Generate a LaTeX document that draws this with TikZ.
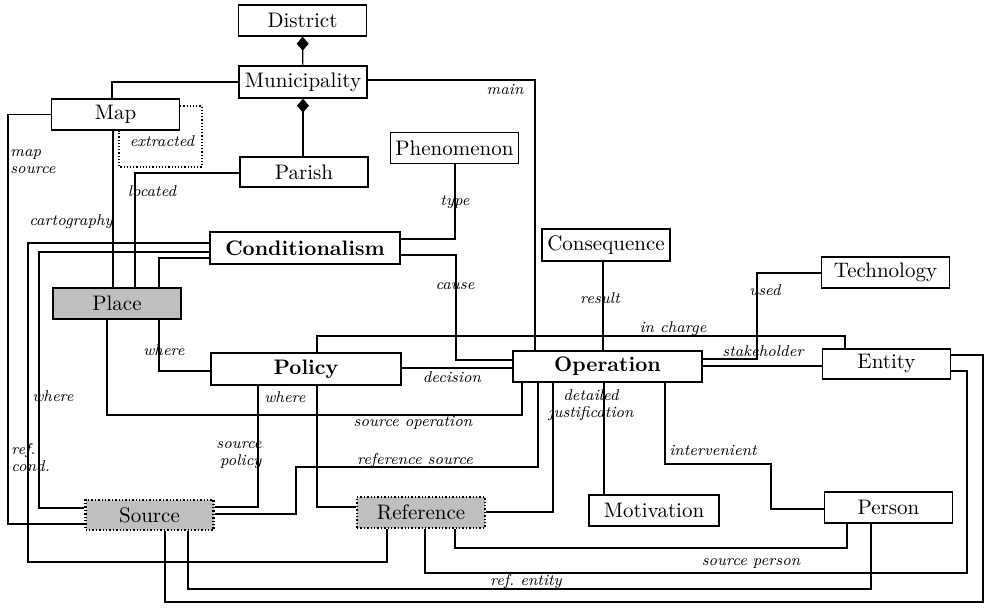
\documentclass[tikz,border=0pt]{standalone}
\usetikzlibrary{arrows.meta}
\tikzset{
  entbox/.style={draw, line width=0.7pt, fill=white, minimum width=64pt, minimum height=15.5pt, inner sep=0pt, font=\fontsize{10.5}{12}\selectfont},
  keybox/.style={entbox, line width=1pt, minimum width=95pt, minimum height=16pt, font=\fontsize{10.5}{12}\selectfont\bfseries},
  placebox/.style={entbox, fill=black!25},
  srcbox/.style={entbox, fill=black!25, densely dotted, line width=1.1pt},
  link/.style={line width=0.6pt},
  rel/.style={font=\fontsize{7.8}{8.5}\selectfont\itshape, inner sep=0pt},
  part/.style={link, -{Diamond[length=7pt,width=6pt]}},
}
\begin{document}
\begin{tikzpicture}[x=0.5pt, y=-0.5pt]
\useasboundingbox (0,0) rectangle (990,608);
% entities
\node[entbox] (district) at (302.5,20.5){District};
\node[entbox, minimum height=16pt] (municipality) at (303,82){Municipality};
\node[entbox] (map) at (115.5,114.5){Map};
\node[entbox, minimum height=15pt] (parish) at (304,172){Parish};
\node[entbox] (phenomenon) at (454.5,148){Phenomenon};
\node[keybox] (conditionalism) at (305,248){Conditionalism};
\node[entbox, minimum height=16pt] (consequence) at (606,245){Consequence};
\node[entbox] (technology) at (885.5,272.5){Technology};
\node[placebox] (place) at (117,303.5){Place};
\node[keybox] (policy) at (306,369.5){Policy};
\node[keybox, minimum width=94.5pt, minimum height=15.5pt] (operation) at (607.5,366.5){Operation};
\node[entbox, minimum height=15pt] (entity) at (886.5,364){Entity};
\node[srcbox, minimum height=15pt] (source) at (149.5,515){Source};
\node[srcbox] (reference) at (421,512.5){Reference};
\node[entbox, minimum width=65pt] (motivation) at (654,510.5){Motivation};
\node[entbox] (person) at (888.5,507.5){Person};
% part-of
\draw[part] (municipality) -- (district);
\draw[part] (parish.north -| 303,0) -- (municipality.south -| 303,0);
% links
\draw[link] (municipality.west) -| (map.north -| 112,0);
\draw[link] (municipality.east |- 0,80) -| (operation.north -| 535,0);
\draw[link] (map.west) -| (8,524) -- (source.west |- 0,524);
\draw[link] (map.south -| 113,0) -- (place.north -| 113,0);
\draw[link, densely dotted, line width=0.8pt] (map.east |- 0,106) -| (202,167) -| (map.south -| 119,0);
\draw[link] (parish.west |- 0,173) -| (place.north -| 135,0);
\draw[link] (phenomenon.south -| 455,0) |- (conditionalism.east |- 0,239);
\draw[link] (conditionalism.east |- 0,255) -| (456,360) -- (operation.west |- 0,360);
\draw[link] (conditionalism.west |- 0,243) -| (28,562) -| (reference.south -| 387,0);
\draw[link] (conditionalism.west |- 0,252) -| (39,508) -- (source.west |- 0,508);
\draw[link] (conditionalism.west |- 0,258) -| (place.north -| 159,0);
\draw[link] (place.south -| 159,0) |- (policy.west |- 0,371);
\draw[link] (place.south -| 107,0) |- (522,415) -- (operation.south -| 522,0);
\draw[link] (policy.east |- 0,368) -- (operation.west |- 0,368);
\draw[link] (policy.north -| 317,0) |- (845,336) -- (entity.north -| 845,0);
\draw[link] (policy.south -| 258,0) |- (source.east |- 0,507);
\draw[link] (policy.south -| 317,0) |- (reference.west |- 0,507);
\draw[link] (source.east |- 0,514) -| (296,467) -| (operation.south -| 538,0);
\draw[link] (reference.east |- 0,512) -| (operation.south -| 553,0);
\draw[link] (consequence.south -| 603,0) -- (operation.north -| 603,0);
\draw[link] (operation.south -| 604,0) -- (motivation.north -| 604,0);
\draw[link] (operation.south -| 665,0) |- (771,464) |- (person.west |- 0,509);
\draw[link] (operation.east |- 0,359) -| (757,273) -- (technology.west |- 0,273);
\draw[link] (operation.east |- 0,366) -- (entity.west |- 0,366);
\draw[link] (reference.south -| 455,0) |- (847,548) -- (person.south -| 847,0);
\draw[link] (reference.south -| 425,0) |- (967,573) |- (entity.east |- 0,371);
\draw[link] (source.south -| 188,0) |- (871,589) -- (person.south -| 871,0);
\draw[link] (source.south -| 165,0) |- (983,602) |- (entity.east |- 0,355);
% role names
\node[rel] (lmain) at (505,89){main};
\node[rel, anchor=west, align=left] (lmapsource) at (10,162){map\\source};
\node[rel] (lextracted) at (162,141){extracted};
\node[rel] (llocated) at (152,191){located};
\node[rel] (lcarto) at (71,222){cartography};
\node[rel] (ltype) at (455,202){type};
\node[rel] (lcause) at (455,286){cause};
\node[rel] (lwhereplace) at (164,350){where};
\node[rel] (lwherecond) at (53,396){where};
\node[rel, anchor=west, align=left] (lrefcond) at (11,458){ref.\\cond.};
\node[rel] (lwherepolicy) at (285,397){where};
\node[rel, align=right] (lsrcpolicy) at (239,455){source\\policy};
\node[rel] (lsrcop) at (413,423){source operation};
\node[rel] (lrefsrc) at (415,461){reference source};
\node[rel] (ldecision) at (452,377){decision};
\node[rel] (lresult) at (600,298){result};
\node[rel] (lused) at (765,290){used};
\node[rel] (lincharge) at (673,329){in charge};
\node[rel] (lstake) at (763,351){stakeholder};
\node[rel, align=center] (ldetail) at (591,405){detailed\\justification};
\node[rel] (linterv) at (713,450){intervenient};
\node[rel] (lsrcperson) at (751,564){source person};
\node[rel] (lrefentity) at (526,582){ref.\ entity};
\end{tikzpicture}
\end{document}
